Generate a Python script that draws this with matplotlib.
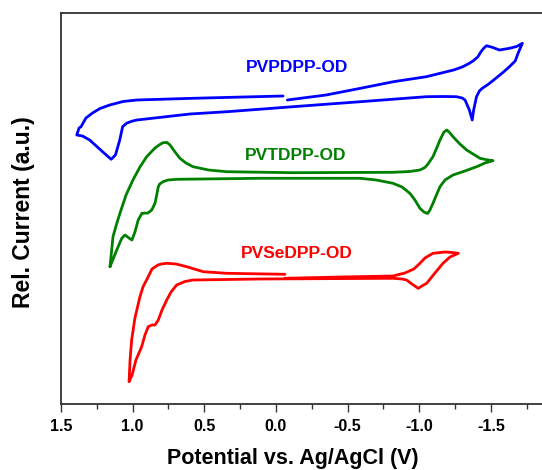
import matplotlib
matplotlib.use("Agg")
import matplotlib.pyplot as plt
from matplotlib.ticker import MultipleLocator

plt.rcParams['font.family'] = ['Liberation Sans', 'DejaVu Sans']

# ---- data (potential in V vs Ag/AgCl, relative current in a.u., curves offset) ----
pvp_V = [-0.05, 0.58, 0.97, 1.067, 1.16, 1.228, 1.28, 1.326, 1.36, 1.374, 1.39, 1.37, 1.35,
         1.30, 1.21, 1.15, 1.12, 1.09, 1.07, 1.04, 1.00, 0.97, 0.60, 0.34, -0.12, -0.59,
         -1.05, -1.17, -1.26, -1.30, -1.32, -1.35, -1.37, -1.38, -1.40, -1.42, -1.44, -1.48,
         -1.52, -1.58, -1.63, -1.67, -1.69, -1.72, -1.68, -1.63, -1.56, -1.51, -1.47,
         -1.45, -1.43, -1.41, -1.38, -1.35, -1.30, -1.24, -1.05, -0.82, -0.59, -0.35, -0.08]
pvp_I = [30.8, 30.57, 30.4, 30.25, 29.9, 29.55, 29.1, 28.6, 27.73, 27.6, 26.9, 26.85, 26.8,
         26.4, 25.23, 24.47, 24.9, 26.4, 27.73, 28.1, 28.3, 28.4, 29.0, 29.23, 29.73, 30.23,
         30.73, 30.75, 30.73, 30.6, 30.4, 29.4, 28.4, 29.4, 30.73, 31.3, 31.57, 31.95,
         32.4, 33.1, 33.73, 34.3, 35.07, 36.07, 35.75, 35.57, 35.4, 35.67, 35.83,
         35.57, 35.2, 34.73, 34.35, 34.07, 33.7, 33.4, 32.73, 32.23, 31.57, 30.9, 30.4]

pvt_V = [1.158, 1.137, 1.112, 1.088, 1.046, 0.998, 0.949, 0.902, 0.844, 0.810, 0.788, 0.760,
         0.739, 0.704, 0.670, 0.628, 0.579, 0.470, 0.344, -0.119, -0.817, -0.935, -1.005,
         -1.040, -1.061, -1.096, -1.125, -1.145, -1.173, -1.192, -1.208, -1.236, -1.284,
         -1.331, -1.424, -1.480, -1.515, -1.459, -1.401, -1.319, -1.236, -1.180, -1.145,
         -1.117, -1.096, -1.075, -1.059, -1.033, -1.005, -0.970, -0.935, -0.880, -0.817,
         -0.700, -0.587, 0.111, 0.693, 0.753, 0.788, 0.811, 0.821, 0.832, 0.844, 0.867,
         0.893, 0.935, 0.961, 0.984, 1.005, 1.026, 1.053, 1.076, 1.111, 1.158]
pvt_I = [13.73, 16.73, 18.0, 19.1, 20.9, 22.4, 23.7, 24.73, 25.6, 25.95, 26.13, 26.15,
         25.9, 25.2, 24.57, 24.1, 23.73, 23.4, 23.23, 23.13, 23.17, 23.25, 23.4,
         23.65, 24.0, 24.73, 25.7, 26.4, 27.2, 27.4, 27.2, 26.73, 26.0,
         25.4, 24.57, 24.4, 24.33, 24.1, 23.73, 23.3, 22.9, 22.4, 21.73,
         20.8, 20.07, 19.4, 19.05, 19.2, 19.57, 20.4, 21.07, 21.7, 22.07,
         22.4, 22.57, 22.57, 22.47, 22.4, 22.23, 22.0, 21.73, 20.9, 20.07, 19.4,
         19.1, 19.07, 18.4, 17.2, 16.4, 16.6, 16.9, 16.57, 15.4, 13.73]

pvse_V = [-0.063, 0.344, 0.507, 0.623, 0.697, 0.762, 0.800, 0.823, 0.865, 0.891, 0.928, 0.949,
          0.984, 1.007, 1.018, 1.025, 1.004, 0.977, 0.937, 0.914, 0.891, 0.865, 0.844, 0.821,
          0.795, 0.762, 0.732, 0.693, 0.635, 0.579, 0.111, -0.817, -0.880, -0.912, -0.949,
          -0.993, -1.019, -1.052, -1.110, -1.166, -1.215, -1.273, -1.230, -1.180, -1.096,
          -1.040, -1.005, -0.963, -0.900, -0.817, -0.447, -0.063]
pvse_I = [12.97, 13.07, 13.23, 13.73, 14.0, 14.07, 14.0, 13.9, 13.5, 12.73, 11.7, 10.73,
          8.6, 6.4, 4.4, 2.23, 2.9, 4.4, 5.73, 6.9, 7.73, 7.9, 7.9, 8.4,
          9.4, 10.4, 11.2, 11.9, 12.25, 12.4, 12.5, 12.57, 12.5, 12.4, 12.0,
          11.57, 11.8, 12.07, 13.1, 14.07, 14.7, 15.07, 15.15, 15.2, 15.07,
          14.6, 14.07, 13.5, 13.1, 12.8, 12.7, 12.57]

names = ["PVPDPP-OD", "PVTDPP-OD", "PVSeDPP-OD"]
colors = ["#0000ff", "#008000", "#ff0000"]
label_V = [-0.147, -0.140, -0.145]
label_I = [33.6, 24.9, 15.07]
xticks = [1.5, 1.0, 0.5, 0.0, -0.5, -1.0, -1.5]

fig = plt.figure(figsize=(5.42, 4.70), dpi=100)
ax = fig.add_axes([61/542, 66/470, 1 - 61/542, 391/470])

for V, I, c in zip([pvp_V, pvt_V, pvse_V], [pvp_I, pvt_I, pvse_I], colors):
    ax.plot(V, I, color=c, lw=2.0, solid_joinstyle='round', solid_capstyle='round')

for n, c, xv, yv in zip(names, colors, label_V, label_I):
    ax.text(xv, yv, n, color=c, fontsize=12.5, fontweight='bold', ha='center', va='center')

ax.set_xlim(1.5, -1.857)
ax.set_ylim(0, 39.1)
ax.set_xticks(xticks)
ax.set_xticklabels([f"{t:.1f}" for t in xticks])
ax.xaxis.set_minor_locator(MultipleLocator(0.25))
ax.set_yticks([])
ax.tick_params(axis='x', which='major', direction='out', length=6, width=1.0,
               labelsize=11.5, pad=5, color='#333333')
ax.tick_params(axis='x', which='minor', direction='out', length=3.5, width=1.0, color='#333333')
for lab in ax.get_xticklabels():
    lab.set_fontweight('bold')
for s in ['left', 'top', 'bottom']:
    ax.spines[s].set_color('#333333')
    ax.spines[s].set_linewidth(1.3)
ax.spines['right'].set_visible(False)

ax.set_xlabel("Potential vs. Ag/AgCl (V)", fontsize=15.5, fontweight='bold')
ax.xaxis.set_label_coords(0.481, -0.14, transform=ax.transAxes)
ax.xaxis.label.set_va('center')
ax.set_ylabel("Rel. Current (a.u.)", fontsize=16.5, fontweight='bold')
ax.yaxis.set_label_coords(-0.079, 0.49, transform=ax.transAxes)
ax.yaxis.label.set_va('center')

fig.savefig("out.png", dpi=100)
